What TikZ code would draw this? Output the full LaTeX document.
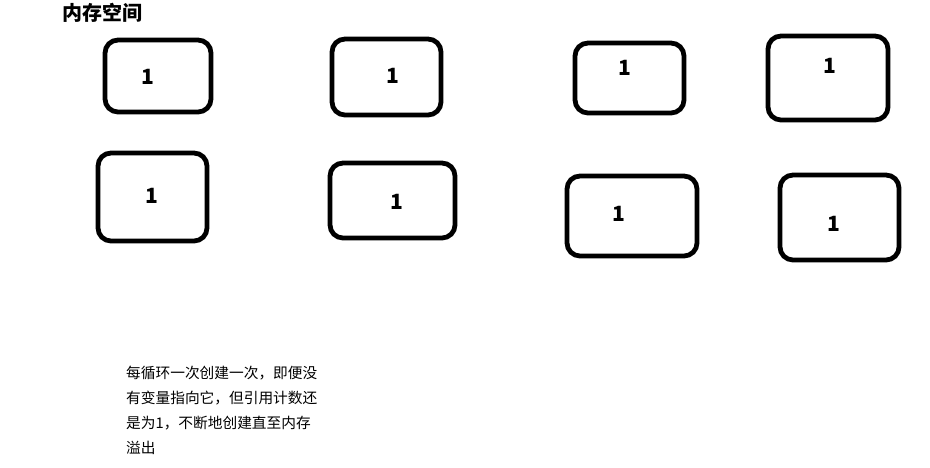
\documentclass[tikz,border=0pt]{standalone}
\usepackage{fontspec}
\newfontfamily\cjk{Noto Sans CJK SC}
\begin{document}
\begin{tikzpicture}[x=1pt, y=-1pt,
    memblock/.style={draw, line width=4.8pt, rounded corners=13pt, inner sep=0pt},
    refcount/.style={inner sep=0pt, font=\cjk\bfseries\fontsize{21}{21}\selectfont}]
  \useasboundingbox (0,0) rectangle (930,467);

  % Title
  \node[inner sep=0pt, font=\cjk\bfseries\fontsize{20}{20}\selectfont] (title) at (102,13) {内存空间};

  % Memory blocks, each with reference count 1
  \foreach \cx/\cy/\w/\h/\lx/\ly [count=\i] in {
      158/76/106/72/148/77, 386.5/77/109/76/393/76,
      629.5/78/109/70/625/68, 828/78/120/84/830/66,
      152.5/197/109/88/152/196, 392.5/200.5/125/75/397/202,
      632/216/130/80/619/214, 839.5/217.5/119/85/834/224} {
    \node[memblock, minimum width=\w pt, minimum height=\h pt] (block\i) at (\cx,\cy) {};
    \node[refcount] (count\i) at (\lx,\ly) {1};
  }

  % Note
  \node[anchor=north west, inner sep=0pt, align=left,
        font=\cjk\fontsize{14.7}{25}\selectfont] (note) at (126,366)
    {每循环一次创建一次，即便没\\有变量指向它，但引用计数还\\是为1，不断地创建直至内存\\溢出};
\end{tikzpicture}
\end{document}
